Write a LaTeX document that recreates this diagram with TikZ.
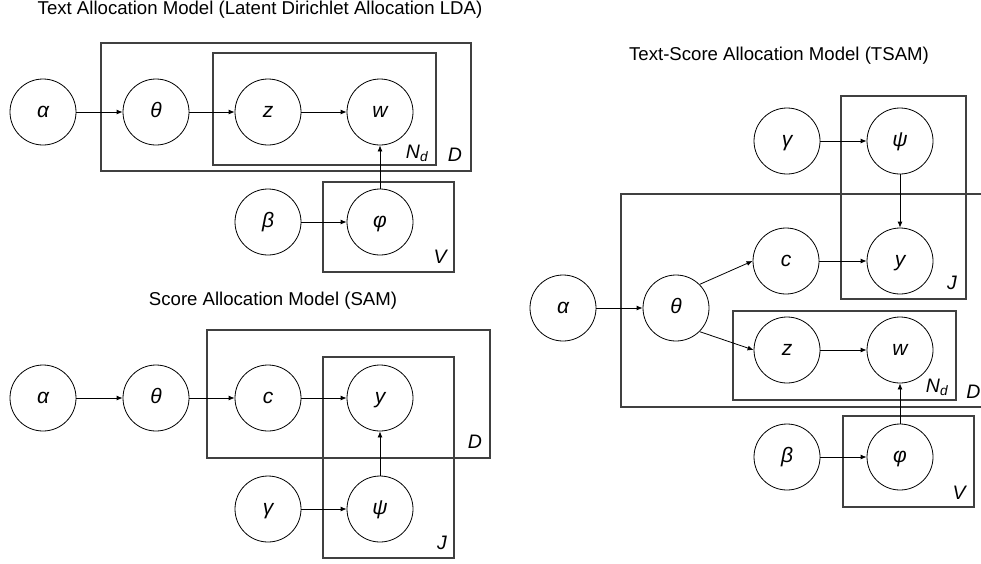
\documentclass[tikz,border=0pt]{standalone}
\usepackage{fontspec}
\setmainfont{Liberation Sans}
\usetikzlibrary{arrows.meta}

\tikzset{
  var/.style={draw, circle, minimum size=66pt, inner sep=0pt,
    text height=15pt, text depth=4.2pt,
    font=\fontsize{21}{25}\selectfont\itshape},
  plate/.style={draw=black!75, line width=1.1pt},
  platelab/.style={inner sep=0pt, font=\fontsize{19.5}{23}\selectfont\itshape},
  ttl/.style={inner sep=0pt, font=\fontsize{18.6}{22}\selectfont},
  arr/.style={-{Latex[length=6pt,width=5pt]}},
}

\begin{document}
\begin{tikzpicture}[x=1pt, y=-1pt, line width=0.8pt]
\useasboundingbox (0,0) rectangle (981,563);

% text allocation model (LDA)
\node[ttl] (T1) at (260,10) {Text Allocation Model (Latent Dirichlet Allocation LDA)};
\draw[plate] (101,43) rectangle (471,171);
\draw[plate] (213,53) rectangle (436,165);
\draw[plate] (323,182) rectangle (454,272);
\node[platelab] (Nd1) at (417,153) {N\textsubscript{d}};
\node[platelab] (D1) at (455,155) {D};
\node[platelab] (V1) at (440,257) {V};

\node[var] (A1) at (43,112) {α};
\node[var] (TH1) at (156,112) {θ};
\node[var] (Z1) at (268,112) {z};
\node[var] (W1) at (380,112) {w};
\node[var] (B1) at (268,222) {β};
\node[var] (PH1) at (380,222) {φ};

\draw[arr] (A1) -- (TH1);
\draw[arr] (TH1) -- (Z1);
\draw[arr] (Z1) -- (W1);
\draw[arr] (B1) -- (PH1);
\draw[arr] (PH1) -- (W1);

% score allocation model (SAM)
\node[ttl] (T2) at (273,301) {Score Allocation Model (SAM)};
\draw[plate] (207,330) rectangle (490,458);
\draw[plate] (323,357) rectangle (454,558);
\node[platelab] (D2) at (475,442) {D};
\node[platelab] (J2) at (442,543) {J};

\node[var] (A2) at (43,398) {α};
\node[var] (TH2) at (156,398) {θ};
\node[var] (C2) at (268,398) {c};
\node[var] (Y2) at (380,398) {y};
\node[var] (G2) at (268,509) {γ};
\node[var] (PS2) at (380,509) {ψ};

\draw[arr] (A2) -- (TH2);
\draw[arr] (TH2) -- (C2);
\draw[arr] (C2) -- (Y2);
\draw[arr] (G2) -- (PS2);
\draw[arr] (PS2) -- (Y2);

% text-score allocation model (TSAM), D plate runs off to the right
\node[ttl] (T3) at (779,56) {Text-Score Allocation Model (TSAM)};
\draw[plate] (995,194) -- (621,194) -- (621,407) -- (995,407);
\draw[plate] (841,96) rectangle (966,299);
\draw[plate] (733,311) rectangle (956,400);
\draw[plate] (843,416) rectangle (974,507);
\node[platelab] (J3) at (952,283) {J};
\node[platelab] (Nd3) at (937,387) {N\textsubscript{d}};
\node[platelab] (V3) at (959,493) {V};
\node[platelab] (D3) at (973.5,392) {D};

\node[var] (A3) at (563,308) {α};
\node[var] (TH3) at (676,308) {θ};
\node[var] (G3) at (787,141) {γ};
\node[var] (PS3) at (900,141) {ψ};
\node[var] (C3) at (786,261) {c};
\node[var] (Y3) at (900,261) {y};
\node[var] (Z3) at (787,350) {z};
\node[var] (W3) at (900,350) {w};
\node[var] (B3) at (787,457) {β};
\node[var] (PH3) at (900,457) {φ};

\draw[arr] (A3) -- (TH3);
\draw[arr] (TH3.north east) -- (C3.west);
\draw[arr] (TH3.south east) -- (Z3.west);
\draw[arr] (G3) -- (PS3);
\draw[arr] (PS3) -- (Y3);
\draw[arr] (C3) -- (Y3);
\draw[arr] (Z3) -- (W3);
\draw[arr] (B3) -- (PH3);
\draw[arr] (PH3) -- (W3);
\end{tikzpicture}
\end{document}
